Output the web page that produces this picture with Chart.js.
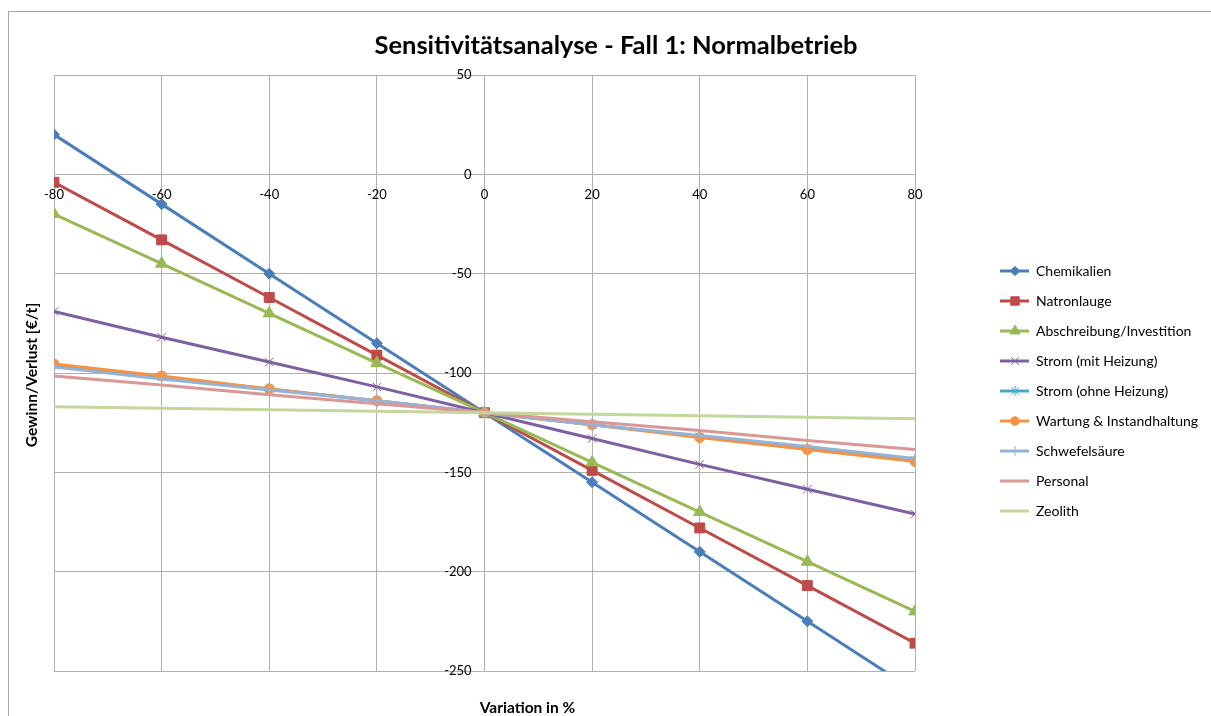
<!DOCTYPE html>
<html>
<head>
<meta charset="utf-8">
<script src="https://cdn.jsdelivr.net/npm/chart.js@4.4.0/dist/chart.umd.min.js"></script>
<style>
  html, body { margin: 0; background: #fff; overflow: hidden; }
  #frame { position: absolute; left: 8px; top: 11px; width: 1214px; height: 730px; border: 1px solid #a6a6a6; }
</style>
</head>
<body>
<div id="frame"><canvas id="chart"></canvas></div>
<script>
var variation = [-80, -60, -40, -20, 0, 20, 40, 60, 80];
var xTicks = [-80, -60, -40, -20, 0, 20, 40, 60, 80];
var yTicks = [50, 0, -50, -100, -150, -200, -250];

var seriesNames = ["Chemikalien", "Natronlauge", "Abschreibung/Investition", "Strom (mit Heizung)",
    "Strom (ohne Heizung)", "Wartung & Instandhaltung", "Schwefelsäure", "Personal", "Zeolith"];

var chemikalien = [20, -15, -50, -85, -120, -155, -190, -225, -260];
var natronlauge = [-4, -33, -62, -91, -120, -149, -178, -207, -236];
var abschreibung = [-20, -45, -70, -95, -120, -145, -170, -195, -220];
var stromMit = [-69, -82, -94.5, -107, -120, -133, -146, -158.5, -171];
var stromOhne = [-96, -102, -108, -114, -120, -126, -132, -138, -144];
var wartung = [-95.5, -101.5, -108, -114, -120, -126, -132.5, -138.5, -144.5];
var schwefelsaeure = [-97, -103, -108.5, -114, -120, -126, -131.5, -137, -143];
var personal = [-101.5, -106, -111, -115.5, -120, -124.5, -129, -134, -138.5];
var zeolith = [-117, -117.8, -118.5, -119.3, -120, -120.8, -121.5, -122.3, -123];

var values = [chemikalien, natronlauge, abschreibung, stromMit, stromOhne, wartung, schwefelsaeure, personal, zeolith];
var colors = ["#4A7EBB", "#BE4B48", "#98B954", "#7D60A0", "#46AAC5", "#F69240", "#95B3D7", "#D99795", "#C3D69B"];
var markers = ["rectRot", "rect", "triangle", "crossRot", "star", "circle", "cross", false, false];
var markerSize = [5.5, 7, 7, 6, 6, 5, 6, 0, 0];

var FONT = "Lato";
Chart.defaults.font.family = FONT;

var datasets = values.map(function(vals, i) {
    return {
        label: seriesNames[i],
        data: vals.map(function(v, j) { return {x: variation[j], y: v}; }),
        borderColor: colors[i],
        backgroundColor: colors[i],
        borderWidth: 3,
        pointStyle: markers[i],
        pointRadius: markerSize[i],
        pointBorderWidth: 1,
        pointBackgroundColor: colors[i],
        pointBorderColor: colors[i],
        order: -i
    };
});

// legend sample: short line with the marker on it, drawn at the right end of a wide box
var sampleWidth = 98;
function legendSample(i) {
    var c = document.createElement("canvas");
    c.width = sampleWidth;
    c.height = 14;
    var g = c.getContext("2d");
    g.strokeStyle = colors[i];
    g.fillStyle = colors[i];
    g.lineWidth = 3;
    g.beginPath();
    g.moveTo(sampleWidth - 29, 7);
    g.lineTo(sampleWidth, 7);
    g.stroke();
    if (markers[i] && Chart.helpers && Chart.helpers.drawPoint) {
        g.lineWidth = 1;
        Chart.helpers.drawPoint(g, {pointStyle: markers[i], radius: markerSize[i] * 0.85, rotation: 0, borderWidth: 1}, sampleWidth - 14, 7);
    }
    return c;
}
var samples = seriesNames.map(function(n, i) { return legendSample(i); });

// plain text pieces placed like in the original sheet
var texts = {
    id: "texts",
    afterDraw: function(chart) {
        var a = chart.chartArea;
        var ctx = chart.ctx;
        ctx.save();
        ctx.fillStyle = "#000";
        ctx.textAlign = "center";
        ctx.textBaseline = "middle";
        ctx.font = "bold 25.5px " + FONT;
        ctx.fillText("Sensitivitätsanalyse - Fall 1: Normalbetrieb", 607, 34);
        ctx.font = "bold 15.5px " + FONT;
        ctx.fillText("Variation in %", (a.left + a.right) / 2 + 43, a.bottom + 37);
        ctx.translate(23, (a.top + a.bottom) / 2 + 2);
        ctx.rotate(-Math.PI / 2);
        ctx.fillText("Gewinn/Verlust [€/t]", 0, 0);
        ctx.restore();
    }
};

var gridColor = "#b0b0b0";

new Chart(document.getElementById("chart"), {
    type: "line",
    data: {datasets: datasets},
    plugins: [texts],
    options: {
        responsive: true,
        maintainAspectRatio: false,
        animation: false,
        layout: {padding: {left: 45, top: 63, bottom: 71, right: 21}},
        plugins: {
            legend: {
                position: "right",
                align: "start",
                title: {display: true, text: "", font: {size: 12}, padding: {top: 158.6, bottom: 0}},
                labels: {
                    color: "#000",
                    font: {size: 14},
                    usePointStyle: true,
                    pointStyleWidth: sampleWidth,
                    padding: 16,
                    sort: function(a, b) { return a.datasetIndex - b.datasetIndex; },
                    generateLabels: function(chart) {
                        return Chart.defaults.plugins.legend.labels.generateLabels(chart).map(function(item) {
                            item.pointStyle = samples[item.datasetIndex];
                            return item;
                        });
                    }
                }
            },
            tooltip: {enabled: false}
        },
        scales: {
            x: {
                type: "linear",
                min: -80,
                max: 80,
                position: {y: 0},
                afterBuildTicks: function(s) { s.ticks = xTicks.map(function(v) { return {value: v}; }); },
                grid: {color: gridColor, drawTicks: false},
                border: {display: false},
                ticks: {color: "#000", font: {size: 13}, padding: 13, maxRotation: 0}
            },
            y: {
                type: "linear",
                min: -250,
                max: 50,
                position: {x: -2.4},
                afterBuildTicks: function(s) { s.ticks = yTicks.map(function(v) { return {value: v}; }); },
                grid: {color: gridColor, drawTicks: false},
                border: {display: false},
                ticks: {color: "#000", font: {size: 13}}
            }
        }
    }
});
</script>
</body>
</html>
